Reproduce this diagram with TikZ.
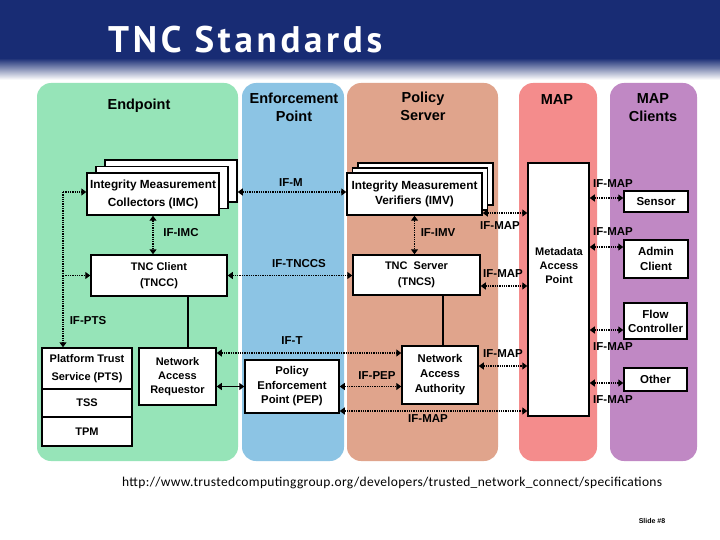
\documentclass[tikz,border=0pt]{standalone}
\usepackage{fontspec}
\setmainfont{Liberation Sans}
\newfontfamily\titlefont[LetterSpace=10]{PT Sans}
\newfontfamily\urlfont[LetterSpace=2.5]{Carlito}
\usetikzlibrary{arrows.meta}
\definecolor{navy}{RGB}{24,44,116}
\definecolor{cEnd}{RGB}{150,228,184}
\definecolor{cEnf}{RGB}{140,196,228}
\definecolor{cPol}{RGB}{224,164,140}
\definecolor{cMap}{RGB}{244,140,140}
\definecolor{cCli}{RGB}{192,136,196}
\begin{document}
\begin{tikzpicture}[x=1pt,y=-1pt,
  col/.style={rounded corners=14pt},
  coltitle/.style={align=center,font=\fontsize{14.5}{18}\selectfont\bfseries},
  box/.style={draw,line width=1.5pt,fill=white,inner sep=0pt,align=center,
    font=\fontsize{11}{14}\selectfont\bfseries},
  lab/.style={inner sep=0pt,font=\fontsize{11.5}{14}\selectfont\bfseries},
  dotline/.style={line width=1.7pt,dash pattern=on 1.3pt off 1pt},
  dotarr/.style={dotline,{Triangle[length=5pt,width=7pt]}-{Triangle[length=5pt,width=7pt]}},
  solarr/.style={line width=1.5pt,{Triangle[length=5pt,width=7pt]}-{Triangle[length=5pt,width=7pt]}},
  solline/.style={line width=1.5pt}]
\useasboundingbox (0,0) rectangle (720,540);
\fill[white] (0,0) rectangle (720,540);
% header
\fill[navy] (0,0) rectangle (720,58.5);
\foreach \i in {0,...,21}{
  \pgfmathsetmacro{\pct}{100-\i*4.6}
  \fill[navy!\pct!white] (0,58+\i) rectangle (720,59.2+\i);
}
\node[anchor=base west,inner sep=0pt,text=white,font=\titlefont\bfseries\fontsize{37}{40}\selectfont] (title) at (108,53) {TNC Standards};
% columns
\fill[cEnd,col] (37,83) rectangle (238,461);
\fill[cEnf,col] (242,83) rectangle (344,461);
\fill[cPol,col] (347,83) rectangle (498,461);
\fill[cMap,col] (519,83) rectangle (597,461);
\fill[cCli,col] (610,83) rectangle (697,461);
\node[coltitle] (tEnd) at (139,106) {Endpoint};
\node[coltitle] (tEnf) at (294,107) {Enforcement\\Point};
\node[coltitle] (tPol) at (423,106) {Policy\\Server};
\node[coltitle] (tMap) at (557,100) {MAP};
\node[coltitle] (tCli) at (653,108) {MAP\\Clients};
% endpoint
\node[box,minimum width=132pt,minimum height=42pt] (imc3) at (171,181) {};
\node[box,minimum width=132pt,minimum height=42pt] (imc2) at (162,187.5) {};
\node[box,minimum width=132pt,minimum height=42pt,font=\fontsize{11.8}{18}\selectfont\bfseries] (imc) at (153,194) {Integrity Measurement\\Collectors (IMC)};
\node[box,minimum width=136pt,minimum height=41pt,font=\fontsize{11}{16}\selectfont\bfseries] (tncc) at (159,275.5) {TNC Client\\(TNCC)};
\node[box,minimum width=77pt,minimum height=57pt] (nar) at (177.5,376.5) {Network\\Access\\Requestor};
\node[box,minimum width=90pt,minimum height=41pt,font=\fontsize{11}{18}\selectfont\bfseries] (pts) at (87,368.5) {Platform Trust\\Service (PTS)};
\node[box,minimum width=90pt,minimum height=28pt] (tss) at (87,403) {TSS};
\node[box,minimum width=90pt,minimum height=29pt] (tpm) at (87,431.5) {TPM};
% enforcement
\node[box,minimum width=94pt,minimum height=53pt,font=\fontsize{11.3}{14.5}\selectfont\bfseries] (pep) at (292,386.5) {Policy\\Enforcement\\Point (PEP)};
% policy server
\node[box,minimum width=135pt,minimum height=42pt] (imv3) at (425.5,184) {};
\node[box,minimum width=135pt,minimum height=42pt] (imv2) at (420,189) {};
\node[box,minimum width=135pt,minimum height=42pt,font=\fontsize{11.8}{15}\selectfont\bfseries] (imv) at (414.5,194) {Integrity Measurement\\Verifiers (IMV)};
\node[box,minimum width=127pt,minimum height=40pt,font=\fontsize{11}{16}\selectfont\bfseries] (tncs) at (416.5,275) {TNC~~Server\\(TNCS)};
\node[box,minimum width=76pt,minimum height=58pt,font=\fontsize{11.3}{15}\selectfont\bfseries] (naa) at (440,375) {Network\\Access\\Authority};
% MAP
\node[box,minimum width=61pt,minimum height=253pt] (map) at (558.5,289.5) {};
\node[align=center,inner sep=0pt,font=\fontsize{11}{14}\selectfont\bfseries] (maptxt) at (559,266) {Metadata\\Access\\Point};
% clients
\node[box,minimum width=64pt,minimum height=21pt,font=\fontsize{11.5}{14}\selectfont\bfseries] (sensor) at (656,201.5) {Sensor};
\node[box,minimum width=64pt,minimum height=38pt,font=\fontsize{11.5}{15}\selectfont\bfseries] (admin) at (656,259) {Admin\\Client};
\node[box,minimum width=63pt,minimum height=36pt,font=\fontsize{11.5}{14}\selectfont\bfseries] (flow) at (655.5,321) {Flow\\Controller};
\node[box,minimum width=63pt,minimum height=23pt,font=\fontsize{11.5}{14}\selectfont\bfseries] (other) at (655.5,379.5) {Other};
% coordinates
\coordinate (ptsTop) at (63,192);
\coordinate (narTop) at (188,348);
\coordinate (naaTop) at (443,346);
\coordinate (ift) at (300,353);
\coordinate (ifmapb) at (430,411);
% connectors
\draw[dotline] (ptsTop) -- (ptsTop |- tncc.west);
\draw[dotline,-{Triangle[length=5pt,width=7pt]}] (ptsTop |- tncc.west) -- (ptsTop |- pts.north);
\draw[dotline,-{Triangle[length=5pt,width=7pt]}] (ptsTop) -- (ptsTop -| imc.west);
\draw[dotline,-{Triangle[length=5pt,width=7pt]}] (ptsTop |- tncc.west) -- (tncc.west);
\draw[dotarr] (imc.south) -- (imc.south |- tncc.north);
\draw[dotarr] (imc3.east |- ptsTop) -- (imv.west |- ptsTop);
\draw[dotarr] (tncc.east) -- (tncc.east -| tncs.west);
\draw[dotarr] (imv.south) -- (imv.south |- tncs.north);
\draw[solline] (narTop |- tncc.south) -- (narTop);
\draw[solline] (naaTop |- tncs.south) -- (naaTop);
\draw[dotarr] (nar.east |- ift) -- (naa.west |- ift);
\draw[solarr] (pep.west -| nar.east) -- (pep.west);
\draw[dotarr] (pep.east) -- (pep.east -| naa.west);
\draw[dotarr] (pep.east |- ifmapb) -- (map.west |- ifmapb);
\draw[dotarr] ([yshift=-19pt]imv.east) -- ([yshift=-19pt]imv.east -| map.west);
\draw[dotarr] ([yshift=-11pt]tncs.east) -- ([yshift=-11pt]tncs.east -| map.west);
\draw[dotarr] ([yshift=9pt]naa.east) -- ([yshift=9pt]naa.east -| map.west);
\draw[dotarr] ([yshift=3.5pt]sensor.west -| map.east) -- ([yshift=3.5pt]sensor.west);
\draw[dotarr] ([yshift=12pt]admin.west -| map.east) -- ([yshift=12pt]admin.west);
\draw[dotarr] ([yshift=-9pt]flow.west -| map.east) -- ([yshift=-9pt]flow.west);
\draw[dotarr] ([yshift=-3.5pt]other.west -| map.east) -- ([yshift=-3.5pt]other.west);
% labels
\node[lab] (lM) at (291,183) {IF-M};
\node[lab] (lIMC) at (181,233) {IF-IMC};
\node[lab] (lTNCCS) at (299,264) {IF-TNCCS};
\node[lab] (lIMV) at (438,233) {IF-IMV};
\node[lab] (lMap1) at (500,226) {IF-MAP};
\node[lab] (lMap2) at (503,274) {IF-MAP};
\node[lab] (lMap3) at (613,184) {IF-MAP};
\node[lab] (lMap4) at (613,232) {IF-MAP};
\node[lab] (lMap5) at (613,347) {IF-MAP};
\node[lab] (lMap6) at (613,400) {IF-MAP};
\node[lab] (lPTS) at (88,321) {IF-PTS};
\node[lab] (lT) at (292,341) {IF-T};
\node[lab] (lPEP) at (377,376) {IF-PEP};
\node[lab] (lMap7) at (503,354) {IF-MAP};
\node[lab] (lMap8) at (428,419) {IF-MAP};
% footer
\node[anchor=west,inner sep=0pt,font=\urlfont\fontsize{13.5}{15}\selectfont] (url) at (122,483) {http://www.trustedcomputinggroup.org/developers/trusted\_network\_connect/specifications};
\node[inner sep=0pt,font=\fontsize{7}{8}\selectfont\bfseries] (slide) at (652,521) {Slide \#8};
\end{tikzpicture}
\end{document}
